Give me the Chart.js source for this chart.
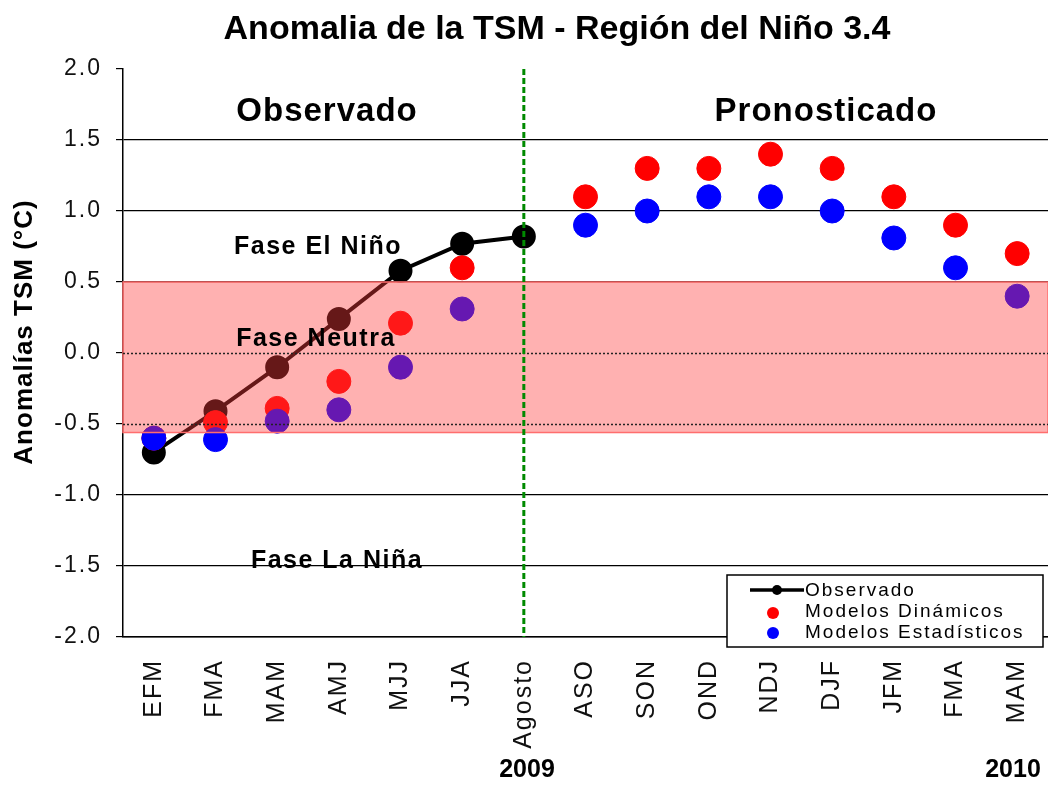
<!DOCTYPE html>
<html lang="es">
<head>
  <meta charset="UTF-8" />
  <title>Anomalia de la TSM - Región del Niño 3.4</title>
  <script src="https://cdn.jsdelivr.net/npm/chart.js"></script>
  <style>
    html, body { margin: 0; padding: 0; background: #fff; }
  </style>
</head>
<body>
  <canvas id="tsmChart" width="1048" height="785"></canvas>

  <script>
    // datos
    const categorias = ['EFM', 'FMA', 'MAM', 'AMJ', 'MJJ', 'JJA', 'Agosto', 'ASO', 'SON', 'OND', 'NDJ', 'DJF', 'JFM', 'FMA', 'MAM'];
    const observado = [-0.7, -0.41, -0.1, 0.24, 0.58, 0.77, 0.82, null, null, null, null, null, null, null, null];
    const dinamicos = [-0.6, -0.49, -0.39, -0.2, 0.21, 0.6, null, 1.1, 1.3, 1.3, 1.4, 1.3, 1.1, 0.9, 0.7];
    const estadisticos = [-0.6, -0.61, -0.48, -0.4, -0.1, 0.31, null, 0.9, 1.0, 1.1, 1.1, 1.0, 0.81, 0.6, 0.4];
    const yTicks = [2.0, 1.5, 1.0, 0.5, 0.0, -0.5, -1.0, -1.5, -2.0];
    const faseNeutra = [-0.56, 0.5];
    const indiceAgosto = 6;

    const FONT = '"Liberation Sans", Arial, sans-serif';

    // banda neutra, linea de agosto y textos
    const extras = {
      id: 'extras',
      beforeDraw(chart) {
        // espaciado de letras para las etiquetas de los ejes
        chart.ctx.letterSpacing = '2px';
      },
      afterDatasetsDraw(chart) {
        const { ctx, chartArea: a, scales: { x, y } } = chart;
        ctx.save();
        const top = y.getPixelForValue(faseNeutra[1]);
        const bot = y.getPixelForValue(faseNeutra[0]);
        ctx.fillStyle = 'rgba(255, 60, 60, 0.4)';
        ctx.fillRect(a.left, top, a.right - a.left, bot - top);
        ctx.strokeStyle = 'rgba(255, 110, 110, 1)';
        ctx.lineWidth = 1.5;
        ctx.strokeRect(a.left, top, a.right - a.left, bot - top);

        // lineas punteadas dentro de la banda
        ctx.strokeStyle = '#222';
        ctx.lineWidth = 1.5;
        ctx.setLineDash([2, 2]);
        [0, -0.5].forEach(v => {
          const py = Math.round(y.getPixelForValue(v)) + 0.5;
          ctx.beginPath();
          ctx.moveTo(a.left, py);
          ctx.lineTo(a.right, py);
          ctx.stroke();
        });

        // linea verde de agosto
        const px = x.getPixelForValue(indiceAgosto);
        ctx.strokeStyle = '#008a00';
        ctx.lineWidth = 3;
        ctx.setLineDash([6, 3]);
        ctx.beginPath();
        ctx.moveTo(px, a.top);
        ctx.lineTo(px, a.bottom);
        ctx.stroke();
        ctx.setLineDash([]);

        ctx.fillStyle = '#000';
        ctx.textAlign = 'center';
        ctx.textBaseline = 'middle';
        ctx.font = 'bold 33px ' + FONT;
        ctx.letterSpacing = '1px';
        ctx.fillText('Observado', 327, 112);
        ctx.fillText('Pronosticado', 826, 112);

        ctx.font = 'bold 25px ' + FONT;
        ctx.letterSpacing = '1.5px';
        ctx.fillText('Fase El Niño', 318, 247);
        ctx.fillText('Fase Neutra', 316, 339);
        ctx.fillText('Fase La Niña', 337, 561);

        // leyenda
        const lx = 727, ly = 575, lw = 316, lh = 72;
        ctx.fillStyle = '#fff';
        ctx.fillRect(lx, ly, lw, lh);
        ctx.strokeStyle = '#000';
        ctx.lineWidth = 1.5;
        ctx.strokeRect(lx, ly, lw, lh);
        ctx.strokeStyle = '#000';
        ctx.lineWidth = 3.5;
        ctx.beginPath();
        ctx.moveTo(750, 590);
        ctx.lineTo(804, 590);
        ctx.stroke();
        ctx.fillStyle = '#000';
        ctx.beginPath(); ctx.arc(777, 590, 5, 0, Math.PI * 2); ctx.fill();
        ctx.fillStyle = '#ff0000';
        ctx.beginPath(); ctx.arc(773, 613, 6, 0, Math.PI * 2); ctx.fill();
        ctx.fillStyle = '#0000ff';
        ctx.beginPath(); ctx.arc(773, 633, 6, 0, Math.PI * 2); ctx.fill();
        ctx.fillStyle = '#000';
        ctx.textAlign = 'left';
        ctx.font = '19px ' + FONT;
        ctx.letterSpacing = '2px';
        ctx.fillText('Observado', 805, 591);
        ctx.fillText('Modelos Dinámicos', 805, 612);
        ctx.fillText('Modelos Estadísticos', 805, 633);
        ctx.restore();
      },
      afterDraw(chart) {
        const { ctx } = chart;
        ctx.save();
        ctx.letterSpacing = '0px';
        ctx.fillStyle = '#000';
        ctx.textAlign = 'center';
        ctx.textBaseline = 'middle';
        ctx.font = 'bold 34px ' + FONT;
        ctx.fillText('Anomalia de la TSM - Región del Niño 3.4', 557, 30);

        ctx.font = 'bold 25px ' + FONT;
        ctx.fillText('2009', 527, 770);
        ctx.fillText('2010', 1013, 770);

        ctx.translate(25, 332);
        ctx.rotate(-Math.PI / 2);
        ctx.font = 'bold 26px ' + FONT;
        ctx.letterSpacing = '1px';
        ctx.fillText('Anomalías TSM (°C)', 0, 0);
        ctx.restore();
      }
    };

    const ctx = document.getElementById('tsmChart').getContext('2d');
    new Chart(ctx, {
      type: 'line',
      data: {
        labels: categorias,
        datasets: [
          {
            label: 'Modelos Estadísticos',
            data: estadisticos,
            showLine: false,
            pointRadius: 12,
            pointBackgroundColor: '#0000ff',
            pointBorderColor: '#0000ff',
            borderColor: '#0000ff',
            order: 1
          },
          {
            label: 'Modelos Dinámicos',
            data: dinamicos,
            showLine: false,
            pointRadius: 12,
            pointBackgroundColor: '#ff0000',
            pointBorderColor: '#ff0000',
            borderColor: '#ff0000',
            order: 2
          },
          {
            label: 'Observado',
            data: observado,
            borderColor: '#000',
            borderWidth: 4,
            pointRadius: 10,
            pointBackgroundColor: '#000',
            pointBorderColor: '#000',
            tension: 0,
            order: 3
          }
        ]
      },
      options: {
        responsive: false,
        animation: false,
        maintainAspectRatio: false,
        layout: { autoPadding: false, padding: { top: 69, left: 0, right: 0, bottom: 0 } },
        plugins: {
          legend: { display: false },
          title: { display: false },
          tooltip: { enabled: false }
        },
        scales: {
          x: {
            offset: true,
            grid: { drawOnChartArea: false, drawTicks: false, offset: true },
            border: { color: '#000', width: 1.5 },
            ticks: {
              color: '#111',
              font: { family: FONT, size: 25 },
              minRotation: 90,
              maxRotation: 90,
              padding: 22,
              autoSkip: false
            },
            afterFit(scale) {
              scale.height = 148;
              scale.paddingLeft = 0;
              scale.paddingRight = 0;
            }
          },
          y: {
            min: -2,
            max: 2,
            afterBuildTicks(scale) { scale.ticks = yTicks.map(v => ({ value: v })); },
            grid: {
              color: c => (c.tick && (c.tick.value === 2 || c.tick.value === 0 || c.tick.value === -0.5)) ? 'rgba(0,0,0,0)' : '#000',
              tickColor: '#000',
              tickLength: 7,
              lineWidth: 1.2
            },
            border: { color: '#000', width: 1.5 },
            ticks: {
              color: '#111',
              font: { family: FONT, size: 23 },
              padding: 14,
              callback: v => v.toFixed(1)
            },
            afterFit(scale) { scale.width = 123; }
          }
        }
      },
      plugins: [extras]
    });
  </script>
</body>
</html>
